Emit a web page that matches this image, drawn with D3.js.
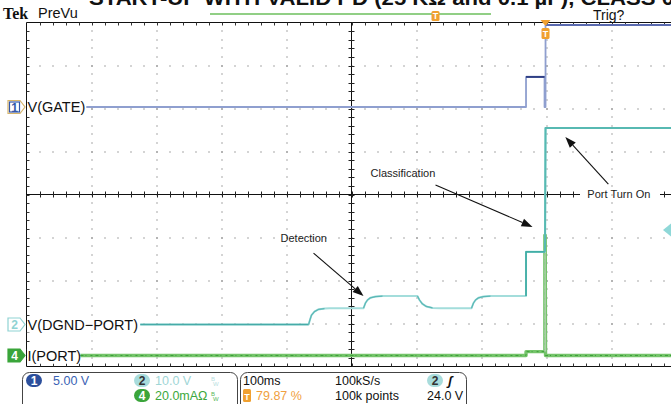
<!DOCTYPE html>
<html><head><meta charset="utf-8">
<script src="https://cdn.jsdelivr.net/npm/d3@7"></script>
<style>body{margin:0;background:#fff;overflow:hidden}svg{display:block;font-family:"Liberation Sans",Arial,sans-serif}</style>
</head><body>
<svg id="c" width="671" height="404"></svg>
<script>
// ---------- data (time in ms from left edge of screen, 100 ms/div) ----------
const title = "START-UP WITH VALID PD (25 K\u03A9 and 0.1 \u00B5F), CLASS 0";
// Ch1 V(GATE), volts (5 V/div)
const gateT = [92, 768.5, 768.5, 797, 797, 798.5, 798.5, 1000];
const gateV = [0, 0, 3.5, 3.5, 0, 0, 30, 30];
// Ch2 V(DGND-PORT), volts (10 V/div)
const portT = [175, 434, 436, 438.5, 443, 449, 458.5, 466, 518.5, 521.5, 524.6, 529, 537, 547.7, 556,
               601.5, 604.6, 609, 615, 624.6, 637, 684.6, 687.7, 690.8, 695.4, 703, 713.8, 722,
               768.5, 768.5, 797.7, 798.5, 1000];
const portV = [0, 0, 1.05, 2.2, 3.0, 3.5, 3.7, 3.8, 3.8, 5.0, 5.7, 6.2, 6.5, 6.6, 6.6,
               6.6, 5.7, 4.8, 4.2, 3.85, 3.8, 3.8, 5.0, 5.7, 6.2, 6.5, 6.6, 6.6,
               6.6, 16.9, 16.9, 45.7, 45.7];
// Ch4 I(PORT), mA (20 mA/div)
const curT = [83, 768.5, 768.5, 797.5, 797.5, 798, 798.5, 798.5, 1000];
const curI = [0, 0, 1.8, 1.8, 56, 56, 1.8, 0, 0];
// annotations: label, tip (time ms, ch2 volts)
const notes = [
  {label: "Detection", t: 518.5, v: 6.6},
  {label: "Classification", t: 778.5, v: 22.7},
  {label: "Port Turn On", t: 829, v: 43.6}
];
// readout panel
const ch1Scale = "5.00 V", ch2Scale = "10.0 V", ch4Scale = "20.0mA\u03A9";
const timeBase = "100ms", sampleRate = "100kS/s", recLen = "100k points";
const trigPos = "79.87 %", trigLevel = "24.0 V";

// ---------- layout ----------
const svg = d3.select("#c");
const X0 = 26.5, DX = 65, Y0 = 22.5, DY = 43, NX = 10, NY = 8;
const X1 = X0 + DX * NX, Y1 = Y0 + DY * NY;
const x = d3.scaleLinear().domain([0, 1000]).range([X0, X1]);
const g1 = 107, g2 = 324.5, g4 = 355.5;
const y1 = d3.scaleLinear().domain([0, (g1 - 25) / DY * 5]).range([g1, 25]).clamp(true);
const y2 = d3.scaleLinear().domain([0, 10]).range([g2, g2 - DY]);
const y4 = d3.scaleLinear().domain([0, 20]).range([g4, g4 - DY]);

// title (clipped at top)
svg.append("text").attr("x", 89).attr("y", 5).attr("font-weight", "bold").attr("font-size", 20)
  .attr("textLength", 585).attr("lengthAdjust", "spacingAndGlyphs").attr("fill", "#111").text(title);

// ---------- graticule ----------
const grid = svg.append("g");
const dots = [];
for (let j = 1; j < NY; j++) { if (j === 4) continue;
  for (let k = 1; k < NX * 5; k++) dots.push([X0 + k * DX / 5, Y0 + j * DY]); }
for (let i = 1; i < NX; i++) { if (i === 5) continue;
  for (let m = 1; m < NY * 5; m++) dots.push([X0 + i * DX, Y0 + m * DY / 5]); }
grid.selectAll("rect.d").data(dots).join("rect").attr("class", "d")
  .attr("x", d => Math.round(d[0]) - 0.5).attr("y", d => Math.round(d[1]) - 0.5)
  .attr("width", 1).attr("height", 1).attr("fill", "#555");
const cx = X0 + 5 * DX, cy = Y0 + 4 * DY;
const ln = (a, b, c, d, col = "#111", w = 1) => grid.append("line").attr("x1", a).attr("y1", b).attr("x2", c).attr("y2", d).attr("stroke", col).attr("stroke-width", w);
ln(X0, Y0, X0, Y1); ln(X0, Y0, 671, Y0); ln(X0, Y1, 671, Y1);
ln(cx, Y0, cx, Y1); ln(X0, cy, 580, cy); ln(660, cy, 671, cy);
for (let k = 1; k < NX * 5; k++) {
  const xx = Math.round(X0 + k * DX / 5) + 0.5;
  ln(xx, Y0, xx, Y0 + 3, "#333"); ln(xx, Y1, xx, Y1 - 3, "#333");
  if (xx < 580 || xx > 660) ln(xx, cy - 3, xx, cy + 3, "#222");
}
for (let m = 1; m < NY * 5; m++) {
  const yy = Math.round(Y0 + m * DY / 5) + 0.5;
  ln(X0, yy, X0 + 3, yy, "#333"); ln(cx - 3, yy, cx + 3, yy, "#222");
}

// ---------- traces ----------
const tr = svg.append("g");
function trace(T, V, ys, col, w, from = 0, to = T.length, extra = {}) {
  const idx = d3.range(from, to);
  const p = tr.append("path").datum(idx)
    .attr("d", d3.line().x(i => x(T[i])).y(i => ys(V[i])))
    .attr("fill", "none").attr("stroke", col).attr("stroke-width", w).attr("stroke-linejoin", "round");
  for (const k in extra) p.attr(k, extra[k]);
  return p;
}
// ch4 current
trace(curT, curI, y4, "#74c46a", 3.4);
trace(curT, curI, y4, "#3e9e3a", 1, 0, curT.length, {"stroke-dasharray": "3 2 1 4 2 3"});
trace(curT, curI, y4, "#a9cfa6", 1.2, 3, 7);
// ch2
trace(portT, portV, y2, "#a3dddb", 2);
trace(portT, portV, y2, "#46aba8", 1.6, 0, 2);
[[1, 8], [8, 15], [15, 21], [21, 28]].forEach(([a, b]) => trace(portT, portV, y2, "#5bb8b6", 1.2, a, b - 1));
trace(portT, portV, y2, "#42aea6", 1.8, 28, 31);
trace(portT, portV, y2, "#57b9b2", 2, 30, 33);
// ch1
trace(gateT, gateV, y1, "#8f9fcf", 1.8);
trace(gateT, gateV, y1, "#2f3f85", 2, 2, 4);
trace(gateT, gateV, y1, "#5a6ab0", 1.8, 6, 8);

// ---------- channel markers & labels ----------
function marker(yc, num, stroke, fill, tcol, inner) {
  const g = svg.append("g");
  g.append("path").attr("d", `M8,${yc-6.5}H20L25,${yc}L20,${yc+6.5}H8Z`).attr("fill", fill).attr("stroke", stroke).attr("stroke-width", 1.2);
  if (inner) g.append("rect").attr("x", 9.5).attr("y", yc - 5).attr("width", 10).attr("height", 10).attr("fill", "none").attr("stroke", inner).attr("stroke-width", 1.2);
  g.append("text").attr("x", 14.5).attr("y", yc + 4.5).attr("text-anchor", "middle").attr("font-size", 12).attr("font-weight", "bold").attr("fill", tcol).text(num);
}
marker(g1, "1", "#d7b56a", "#fff", "#3557a8", "#3557a8");
marker(g2, "2", "#8fd3d3", "#fff", "#8fd3d3", null);
marker(g4, "4", "#3aa53a", "#3aa53a", "#fff", null);
const lab = (yc, t, w) => { svg.append("rect").attr("x", 27).attr("y", yc - 8).attr("width", w).attr("height", 16).attr("fill", "#fff");
  svg.append("text").attr("x", 27.5).attr("y", yc + 5).attr("font-size", 14.5).attr("fill", "#111").text(t); };
lab(g1, "V(GATE)", 59); lab(g2, "V(DGND\u2212PORT)", 111); lab(g4, "I(PORT)", 53);

// ---------- annotations ----------
const ann = svg.append("g").attr("font-size", 11).attr("fill", "#222");
function arrow(x1, yA, x2, yB) {
  const a = Math.atan2(yB - yA, x2 - x1), L = 11, W = 4;
  const bx = x2 - L * Math.cos(a), by = yB - L * Math.sin(a);
  ann.append("line").attr("x1", x1).attr("y1", yA).attr("x2", bx).attr("y2", by).attr("stroke", "#111").attr("stroke-width", 1.1);
  ann.append("path").attr("d", `M${x2},${yB}L${bx - W * Math.sin(a)},${by + W * Math.cos(a)}L${bx + W * Math.sin(a)},${by - W * Math.cos(a)}Z`).attr("fill", "#111");
}
const offs = {"Detection": {tx: -83, ty: -54, ax: -50, ay: -43},
              "Classification": {tx: -162, ty: -50, ax: -97, ay: -42},
              "Port Turn On": {tx: 22, ty: 61, ax: 43, ay: 47}};
notes.forEach(n => {
  const px = x(n.t), py = y2(n.v), o = offs[n.label];
  arrow(px + o.ax, py + o.ay, px, py);
  ann.append("text").attr("x", px + o.tx).attr("y", py + o.ty).text(n.label);
});

// ---------- top indicators ----------
svg.append("text").attr("x", 3).attr("y", 19).attr("font-family", "Liberation Serif,serif").attr("font-weight", "bold").attr("font-size", 16).attr("fill", "#111").text("Tek");
svg.append("text").attr("x", 38).attr("y", 17.5).attr("font-size", 14.5).attr("fill", "#111").text("PreVu");
svg.append("text").attr("x", 593).attr("y", 19.5).attr("font-size", 14).attr("fill", "#111").text("Trig?");
svg.append("line").attr("x1", 210).attr("x2", 491).attr("y1", 14).attr("y2", 14).attr("stroke", "#6cbf5c").attr("stroke-width", 1.5);
function tIcon(xc, yt, h) {
  svg.append("rect").attr("x", xc - 4).attr("y", yt).attr("width", 8).attr("height", h).attr("rx", 1.5).attr("fill", "#f0a030");
  svg.append("text").attr("x", xc).attr("y", yt + h - 2).attr("text-anchor", "middle").attr("font-size", 9).attr("font-weight", "bold").attr("fill", "#fff").text("T");
}
tIcon(435.5, 11, 10);
const tx = x(798.5);
svg.append("path").attr("d", `M${tx - 5},20L${tx + 5},20L${tx},26Z`).attr("fill", "#f0a030");
tIcon(tx, 28, 11);
svg.append("path").attr("d", "M663,230L671,223.5L671,236.5Z").attr("fill", "#8fd8d8");

// ---------- readout panel ----------
const pnl = svg.append("g").attr("font-size", 12.5);
pnl.append("rect").attr("x", 22.5).attr("y", 372.5).attr("width", 215).attr("height", 45).attr("rx", 7).attr("fill", "#fff").attr("stroke", "#444");
pnl.append("rect").attr("x", 240.5).attr("y", 372.5).attr("width", 226).attr("height", 45).attr("rx", 7).attr("fill", "#fff").attr("stroke", "#444");
function badge(xl, yt, num, fill, tcol) {
  pnl.append("rect").attr("x", xl).attr("y", yt).attr("width", 16).attr("height", 13).attr("rx", 6.5).attr("fill", fill);
  pnl.append("text").attr("x", xl + 8).attr("y", yt + 11).attr("text-anchor", "middle").attr("font-weight", "bold").attr("font-size", 12).attr("fill", tcol).text(num);
}
const txt = (xx, yy, t, col = "#111", extra = {}) => { const e = pnl.append("text").attr("x", xx).attr("y", yy).attr("fill", col).text(t); for (const k in extra) e.attr(k, extra[k]); return e; };
badge(26, 374, "1", "#2c4f9c", "#fff");
txt(53, 385, ch1Scale, "#3a62b4");
badge(134, 374, "2", "#a8dcdc", "#333");
txt(155, 385, ch2Scale, "#9fd6d6");
txt(211, 381, "B", "#b8e0e0", {"font-size": 6}); txt(213, 386, "W", "#b8e0e0", {"font-size": 6});
badge(134, 389, "4", "#3ba53b", "#fff");
txt(155, 400, ch4Scale, "#3ca83c");
txt(211, 396, "B", "#5cb85c", {"font-size": 6}); txt(213, 401, "W", "#5cb85c", {"font-size": 6});
txt(243, 385, timeBase);
txt(335, 385, sampleRate);
badge(427, 374, "2", "#a8dcdc", "#333");
txt(448, 385, "\u0283", "#111", {"font-weight": "bold", "font-style": "italic", "font-size": 13});
pnl.append("rect").attr("x", 243).attr("y", 389).attr("width", 8).attr("height", 13).attr("rx", 1.5).attr("fill", "#f0a030");
txt(247, 400, "T", "#fff", {"font-size": 9, "font-weight": "bold", "text-anchor": "middle"});
txt(256, 400, trigPos, "#f0a040");
txt(335, 400, recLen);
txt(427, 400, trigLevel);
</script>
</body></html>
